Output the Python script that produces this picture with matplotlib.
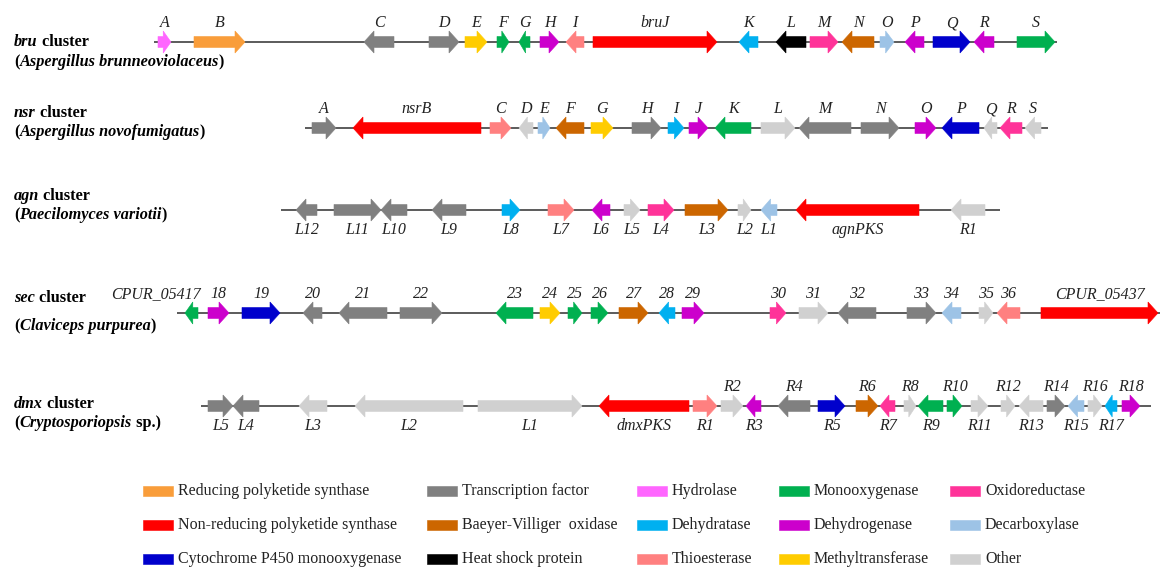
import matplotlib
matplotlib.use("Agg")
import matplotlib.pyplot as plt
from matplotlib.patches import Polygon, Rectangle

plt.rcParams['font.family'] = ['Liberation Serif', 'DejaVu Serif']

# ---------------- categories / colours ----------------
cat_keys = ['RPKS', 'TF', 'HYD', 'MO', 'OR',
            'NRPKS', 'BVO', 'DHT', 'DH', 'DC',
            'P450', 'HSP', 'TE', 'MT', 'OT']
cat_labels = ['Reducing polyketide synthase', 'Transcription factor', 'Hydrolase', 'Monooxygenase', 'Oxidoreductase',
              'Non-reducing polyketide synthase', 'Baeyer-Villiger  oxidase', 'Dehydratase', 'Dehydrogenase', 'Decarboxylase',
              'Cytochrome P450 monooxygenase', 'Heat shock protein', 'Thioesterase', 'Methyltransferase', 'Other']
cat_colors = ['#F99D3A', '#808080', '#FF66FF', '#00B050', '#FF3399',
              '#FF0000', '#CC6600', '#00B0F0', '#CC00CC', '#9DC3E6',
              '#0000CC', '#000000', '#FF8080', '#FFCC00', '#D0D0D0']

# ---------------- bru cluster ----------------
bru_span = (154, 1057)
bru_names = ['A', 'B', 'C', 'D', 'E', 'F', 'G', 'H', 'I', 'bruJ', 'K', 'L', 'M', 'N', 'O', 'P', 'Q', 'R', 'S']
bru_start = [158, 194, 364, 429, 465, 497, 519, 540, 566, 593, 739, 776, 810, 842, 880, 905, 933, 974, 1017]
bru_end = [171, 245, 394, 459, 487, 509, 530, 559, 584, 717, 758, 806, 838, 874, 894, 924, 970, 994, 1055]
bru_strand = ['+', '+', '-', '+', '+', '+', '-', '+', '-', '+', '-', '-', '+', '-', '+', '-', '+', '-', '+']
bru_cat = ['HYD', 'RPKS', 'TF', 'TF', 'MT', 'MO', 'MO', 'DH', 'TE', 'NRPKS', 'DHT', 'HSP', 'OR', 'BVO', 'DC',
           'DH', 'P450', 'DH', 'MO']

# ---------------- nsr cluster ----------------
nsr_span = (305, 1048)
nsr_names = ['A', 'nsrB', 'C', 'D', 'E', 'F', 'G', 'H', 'I', 'J', 'K', 'L', 'M', 'N', 'O', 'P', 'Q', 'R', 'S']
nsr_start = [312, 353, 490, 519, 538, 556, 591, 632, 668, 689, 715, 761, 799, 861, 915, 942, 984, 1000, 1025]
nsr_end = [336, 481, 511, 533, 550, 584, 613, 661, 684, 708, 751, 795, 851, 899, 936, 979, 997, 1022, 1041]
nsr_strand = ['+', '-', '+', '-', '+', '-', '+', '+', '+', '+', '-', '+', '-', '+', '+', '-', '-', '-', '-']
nsr_cat = ['TF', 'NRPKS', 'TE', 'OT', 'DC', 'BVO', 'MT', 'TF', 'DHT', 'DH', 'MO', 'OT', 'TF', 'TF', 'DH',
           'P450', 'OT', 'OR', 'OT']

# ---------------- agn cluster ----------------
agn_span = (281, 1000)
agn_names = ['L12', 'L11', 'L10', 'L9', 'L8', 'L7', 'L6', 'L5', 'L4', 'L3', 'L2', 'L1', 'agnPKS', 'R1']
agn_start = [296, 334, 381, 432, 502, 548, 592, 624, 648, 685, 738, 761, 796, 951]
agn_end = [317, 381, 407, 466, 520, 574, 610, 640, 674, 728, 751, 777, 919, 985]
agn_strand = ['-', '+', '-', '-', '+', '+', '-', '+', '+', '+', '+', '-', '-', '-']
agn_cat = ['TF', 'TF', 'TF', 'TF', 'DHT', 'TE', 'DH', 'OT', 'OR', 'BVO', 'OT', 'DC', 'NRPKS', 'OT']

# ---------------- sec cluster ----------------
sec_span = (177, 1160)
sec_names = ['CPUR_05417', '18', '19', '20', '21', '22', '23', '24', '25', '26', '27', '28', '29', '30', '31',
             '32', '33', '34', '35', '36', 'CPUR_05437']
sec_start = [185, 208, 242, 303, 339, 400, 496, 540, 568, 591, 619, 659, 682, 770, 799, 838, 907, 942, 979, 997, 1041]
sec_end = [198, 229, 280, 322, 387, 442, 533, 560, 582, 608, 648, 675, 704, 786, 828, 876, 936, 961, 993, 1020, 1158]
sec_strand = ['-', '+', '+', '-', '-', '+', '-', '+', '+', '+', '+', '-', '+', '+', '+', '-', '+', '-', '+', '-', '+']
sec_cat = ['MO', 'DH', 'P450', 'TF', 'TF', 'TF', 'MO', 'MT', 'MO', 'MO', 'BVO', 'DHT', 'DH', 'OR', 'OT',
           'TF', 'TF', 'DC', 'OT', 'TE', 'NRPKS']

# ---------------- dmx cluster ----------------
dmx_span = (201, 1151)
dmx_names = ['L5', 'L4', 'L3', 'L2', 'L1', 'dmxPKS', 'R1', 'R2', 'R3', 'R4', 'R5', 'R6', 'R7', 'R8', 'R9',
             'R10', 'R11', 'R12', 'R13', 'R14', 'R15', 'R16', 'R17', 'R18']
dmx_start = [208, 233, 299, 355, 478, 599, 693, 721, 746, 778, 818, 856, 880, 904, 918, 947, 971, 1001, 1019,
             1047, 1068, 1088, 1105, 1122]
dmx_end = [233, 259, 327, 463, 582, 689, 717, 743, 761, 810, 845, 878, 895, 916, 943, 962, 988, 1015, 1043,
           1065, 1084, 1102, 1117, 1140]
dmx_strand = ['+', '-', '-', '-', '+', '-', '+', '+', '-', '-', '+', '+', '-', '+', '-', '+', '+', '+', '-',
              '+', '-', '+', '-', '+']
dmx_cat = ['TF', 'TF', 'OT', 'OT', 'OT', 'NRPKS', 'TE', 'OT', 'DH', 'TF', 'P450', 'BVO', 'OR', 'OT', 'MO',
           'MO', 'OT', 'OT', 'OT', 'TF', 'DC', 'OT', 'DHT', 'DH']
dmx_side = ['below'] * 7 + ['above', 'below'] * 8 + ['above']

# ---------------- drawing ----------------
W, H = 1160, 567
fig = plt.figure(figsize=(W / 100, H / 100), dpi=100)
ax = fig.add_axes([0, 0, 1, 1])
ax.set_xlim(0, W)
ax.set_ylim(H, 0)
ax.axis('off')

color_of = dict(zip(cat_keys, cat_colors))
BODY, HEAD, HEADLEN = 11, 22, 10
LFS = 11.5
TFS = 11.7


def gene_arrow(x0, x1, y, strand, color):
    length = x1 - x0
    hl = min(HEADLEN, 0.6 * length)
    if strand == '+':
        b = x1 - hl
        pts = [(x0, y - BODY / 2), (b, y - BODY / 2), (b, y - HEAD / 2), (x1, y),
               (b, y + HEAD / 2), (b, y + BODY / 2), (x0, y + BODY / 2)]
    else:
        b = x0 + hl
        pts = [(x1, y - BODY / 2), (b, y - BODY / 2), (b, y - HEAD / 2), (x0, y),
               (b, y + HEAD / 2), (b, y + BODY / 2), (x1, y + BODY / 2)]
    ax.add_patch(Polygon(pts, closed=True, facecolor=color, edgecolor=color, lw=0.4, zorder=3))


def draw_cluster(y, span, names, starts, ends, strands, cats, sides, label_dx=None):
    ax.plot(span, [y, y], color='#404040', lw=1.2, zorder=1, solid_capstyle='butt')
    label_dx = label_dx or {}
    for n, s, e, st, c, side in zip(names, starts, ends, strands, cats, sides):
        gene_arrow(s, e, y, st, color_of[c])
        xc = (s + e) / 2 + label_dx.get(n, 0)
        if side == 'above':
            ax.text(xc, y - 11, n, ha='center', va='bottom', style='italic', fontsize=LFS, color='#222222')
        else:
            ax.text(xc, y + 12, n, ha='center', va='top', style='italic', fontsize=LFS, color='#222222')


def cluster_title(y1, y2, prefix, species, suffix=')'):
    t = ax.text(14, y1, prefix, style='italic', weight='bold', fontsize=TFS, va='center', ha='left')
    ax.annotate(' cluster', xy=(1, 0), xycoords=t, va='bottom', ha='left', weight='bold', fontsize=TFS)
    t2 = ax.text(14, y2, '(', weight='bold', fontsize=TFS, va='center', ha='left')
    t3 = ax.annotate(species, xy=(1, 0), xycoords=t2, va='bottom', ha='left', weight='bold',
                     style='italic', fontsize=TFS)
    ax.annotate(suffix, xy=(1, 0), xycoords=t3, va='bottom', ha='left', weight='bold', fontsize=TFS)


draw_cluster(42, bru_span, bru_names, bru_start, bru_end, bru_strand, bru_cat, ['above'] * len(bru_names))
cluster_title(42, 62, 'bru', 'Aspergillus brunneoviolaceus')

draw_cluster(128, nsr_span, nsr_names, nsr_start, nsr_end, nsr_strand, nsr_cat, ['above'] * len(nsr_names))
cluster_title(113, 132, 'nsr', 'Aspergillus novofumigatus')

draw_cluster(210, agn_span, agn_names, agn_start, agn_end, agn_strand, agn_cat, ['below'] * len(agn_names))
cluster_title(196, 215, 'agn', 'Paecilomyces variotii')

draw_cluster(313, sec_span, sec_names, sec_start, sec_end, sec_strand, sec_cat, ['above'] * len(sec_names),
             label_dx={'CPUR_05417': -36})
cluster_title(298, 326, 'sec', 'Claviceps purpurea')

draw_cluster(406, dmx_span, dmx_names, dmx_start, dmx_end, dmx_strand, dmx_cat, dmx_side)
cluster_title(404, 423, 'dmx', 'Cryptosporiopsis', ' sp.)')

# ---------------- legend ----------------
col_x = [143, 427, 637, 779, 950]
row_y = [491, 525, 559]
for i, (lab, col) in enumerate(zip(cat_labels, cat_colors)):
    r, c = divmod(i, 5)
    x, y = col_x[c], row_y[r]
    ax.add_patch(Rectangle((x, y - 5), 30, 10, facecolor=col, edgecolor=col, lw=0.4))
    ax.text(x + 35, y, lab, fontsize=11.5, va='center', ha='left', color='#222222')

fig.savefig('out.png', dpi=100)
